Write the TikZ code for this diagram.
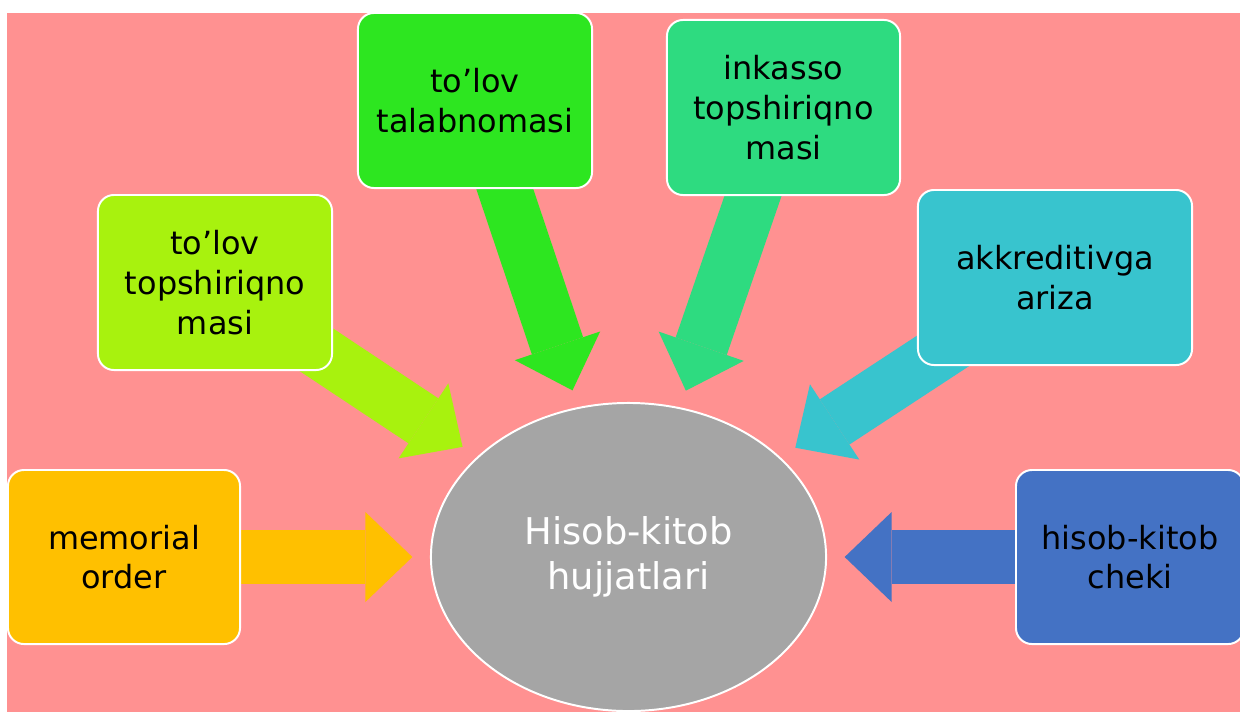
\documentclass[tikz,border=0pt]{standalone}
\usepackage{fontspec}
\setmainfont{DejaVu Sans}
\usetikzlibrary{arrows.meta,shapes.geometric}

\definecolor{bgpink}{HTML}{FF9191}
\definecolor{memoC}{HTML}{FFC000}
\definecolor{limeC}{HTML}{A8F20E}
\definecolor{greenC}{HTML}{2DE620}
\definecolor{inkC}{HTML}{2EDB80}
\definecolor{akkC}{HTML}{38C4CE}
\definecolor{chekC}{HTML}{4472C4}
\definecolor{hubC}{HTML}{A5A5A5}

\pgfdeclarelayer{back}
\pgfsetlayers{back,main}

\begin{document}
\begin{tikzpicture}[x=0.025cm, y=-0.025cm,
    doc/.style={rectangle, rounded corners=0.4cm, draw=white, line width=1.4pt,
        minimum width=5.85cm, minimum height=4.375cm, align=center,
        font=\fontsize{22.7}{28.3}\selectfont},
    blockarrow/.style={line width=1.35cm, shorten >=0.44cm,
        -{Triangle[width=2.25cm, length=1.175cm, line width=0pt]}}]
    \useasboundingbox (0,0) rectangle (1240,712);

    % Document boxes round the centre
    \node[doc, fill=memoC, minimum width=5.8cm, minimum height=4.35cm] (memo) at (124,557) {memorial\\order};
    \node[doc, fill=limeC] (lime) at (215,282.5) {to’lov\\topshiriqno\\masi};
    \node[doc, fill=greenC] (talab) at (475,100.5) {to’lov\\talabnomasi};
    \node[doc, fill=inkC, minimum width=5.825cm] (inkasso) at (783.5,107.5) {inkasso\\topshiriqno\\masi};
    \node[doc, fill=akkC, minimum width=6.85cm] (akkr) at (1055,277.5) {akkreditivga\\ariza};
    \node[doc, fill=chekC, minimum width=5.7cm, minimum height=4.35cm] (chek) at (1130,557) {hisob-kitob\\cheki};

    % Centre ellipse
    \node[ellipse, fill=hubC, draw=white, line width=1.4pt, minimum width=9.875cm,
        minimum height=7.7cm, inner sep=0pt, text=white, align=center,
        font=\fontsize{26.2}{31.9}\selectfont] (hub) at (628.5,557) {Hisob-kitob\\hujjatlari};

    % Background and block arrows behind the boxes
    \begin{pgfonlayer}{back}
        \fill[white] (0,0) rectangle (1240,712);
        \fill[bgpink] (7,13) rectangle (1240,712);
        \foreach \src/\col in {memo/memoC, lime/limeC, talab/greenC, inkasso/inkC, akkr/akkC, chek/chekC} {
            \draw[blockarrow, \col] (\src.center) -- (hub);
        }
    \end{pgfonlayer}
\end{tikzpicture}
\end{document}
